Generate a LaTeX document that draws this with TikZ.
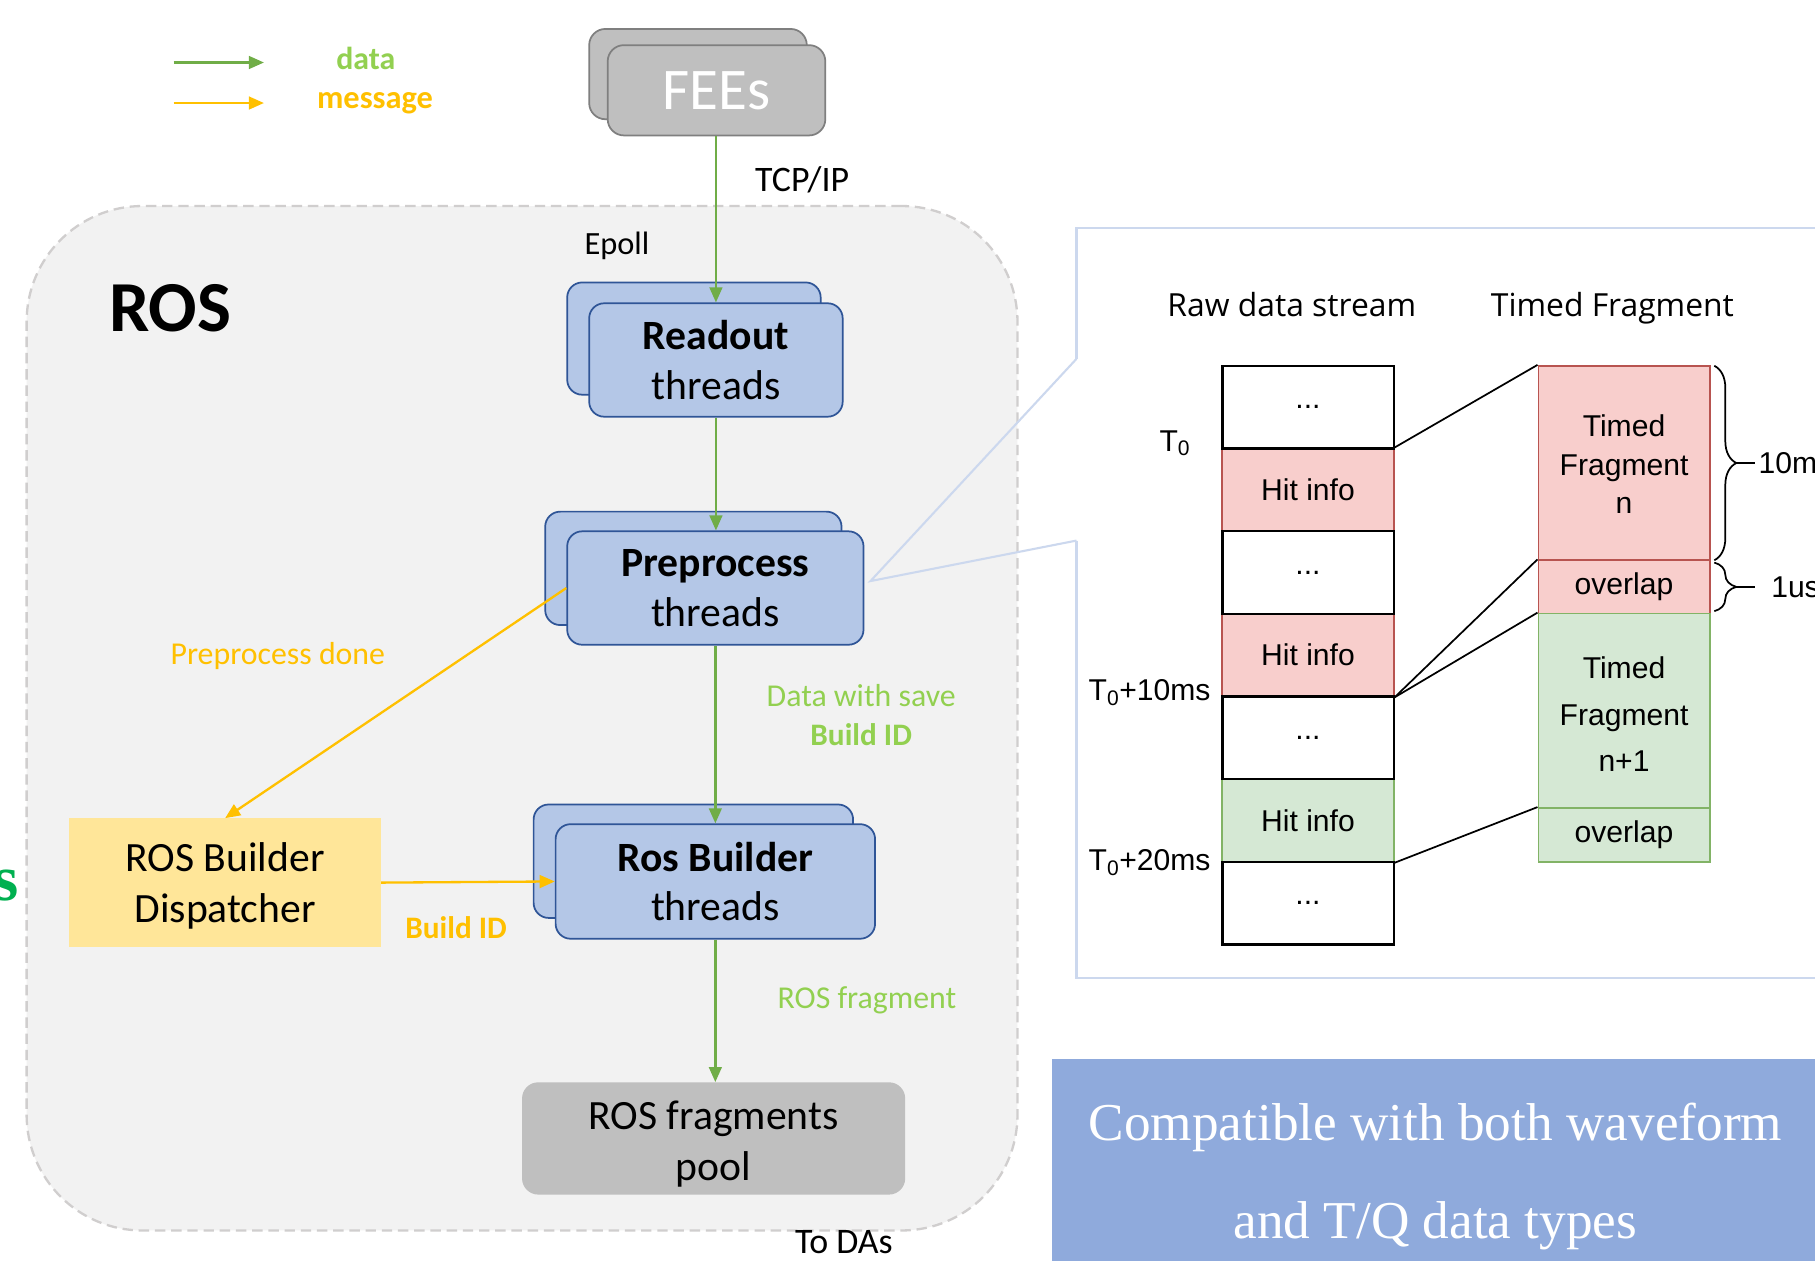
\documentclass[tikz,border=0pt]{standalone}
\usepackage{fontspec}
\setmainfont{Carlito}
\newfontfamily\arialf{Liberation Sans}
\newfontfamily\osans{Open Sans}
\newfontfamily\timesf{Liberation Serif}
\usetikzlibrary{arrows.meta,decorations.pathreplacing,calc}
\definecolor{ggreen}{HTML}{70AD47}
\definecolor{lgreen}{HTML}{92D050}
\definecolor{gold}{HTML}{FFC000}
\definecolor{thrfill}{HTML}{B4C7E7}
\definecolor{thrdraw}{HTML}{2F5597}
\definecolor{feefill}{HTML}{BFBFBF}
\definecolor{feedraw}{HTML}{7F7F7F}
\definecolor{dispfill}{HTML}{FFE699}
\definecolor{rosfill}{HTML}{F2F2F2}
\definecolor{rosdraw}{HTML}{D0CECE}
\definecolor{callc}{HTML}{CCD8EE}
\definecolor{pinkf}{HTML}{F8CECC}
\definecolor{pinkd}{HTML}{B85450}
\definecolor{greenf}{HTML}{D5E8D4}
\definecolor{greend}{HTML}{82B366}
\definecolor{bluebox}{HTML}{8FAADC}
\definecolor{sgreen}{HTML}{00B050}
\tikzset{
  thr/.style={draw=thrdraw, fill=thrfill, line width=1.5pt, rounded corners=13pt,
    align=center, inner sep=0pt, font=\fontsize{36}{43}\selectfont},
  fee/.style={draw=feedraw, fill=feefill, line width=1.5pt, rounded corners=14pt,
    inner sep=0pt, text=white, font=\fontsize{51}{51}\selectfont},
  garrow/.style={draw=ggreen, line width=2pt, -{Triangle[length=13pt,width=11pt]}},
  yarrow/.style={draw=gold, line width=2pt, -{Triangle[length=13pt,width=11pt]}},
  lbl/.style={inner sep=0pt, font=\fontsize{27.5}{32}\selectfont},
  wcell/.style={draw=black, fill=white, line width=2pt, minimum width=148pt,
    minimum height=71.43pt, inner sep=0pt, font=\arialf\fontsize{26}{30}\selectfont},
  pcell/.style={wcell, draw=pinkd, fill=pinkf, line width=1.5pt},
  gcell/.style={wcell, draw=greend, fill=greenf, line width=1.5pt},
  tlbl/.style={inner sep=0pt, font=\arialf\fontsize{26}{30}\selectfont},
}
\begin{document}
\begin{tikzpicture}[x=1pt,y=-1pt]
\useasboundingbox (0,0) rectangle (1568,1089);
\fill[white] (0,0) rectangle (1568,1089);
\begin{scope}
\clip (0,0) rectangle (1568,1089);
% ROS container
\node[draw=rosdraw, fill=rosfill, dashed, dash pattern=on 9pt off 5pt, line width=2pt,
  rounded corners=100pt, minimum width=856pt, minimum height=885pt, inner sep=0pt]
  (ros) at (451,620.5) {};
\node[inner sep=0pt, font=\bfseries\fontsize{62}{62}\selectfont] (rosl) at (147,266) {ROS};

% legend
\coordinate (lga) at (150,54); \coordinate (lgb) at (228,54);
\coordinate (lgc) at (150,89); \coordinate (lgd) at (228,89);
\draw[garrow] (lga) -- (lgb);
\draw[yarrow] (lgc) -- (lgd);
\node[lbl, text=lgreen, font=\bfseries\fontsize{27.5}{30}\selectfont, anchor=base] (ldata) at (316,60) {data};
\node[lbl, text=gold, font=\bfseries\fontsize{28}{30}\selectfont, anchor=base] (lmsg) at (324,94) {message};

% FEEs
\node[fee, minimum width=188pt, minimum height=78pt] (feeb) at (603,64) {};
\node[fee, minimum width=188pt, minimum height=78pt] (fees) at (619,78) {FEEs};

% callout
\draw[callc, line width=1.8pt] (930,310) -- (930,197) -- (1600,197);
\draw[callc, line width=1.8pt] (930,467) -- (930,845) -- (1600,845);
\draw[callc, line width=1.8pt] (930,310) -- (752,502) -- (930,467);

% threads
\node[thr, minimum width=219pt, minimum height=97pt] (readb) at (599.5,292.5) {};
\node[thr, minimum width=219pt, minimum height=98pt] (readout) at (618.5,311) {\textbf{Readout}\\threads};
\node[thr, minimum width=256pt, minimum height=98pt] (prepb) at (599,491) {};
\node[thr, minimum width=256pt, minimum height=98pt] (prep) at (618,508) {\textbf{Preprocess}\\threads};
\node[thr, minimum width=276pt, minimum height=98pt] (rosbb) at (599,744) {};
\node[thr, minimum width=276pt, minimum height=99pt] (rosb) at (618,761.5) {\textbf{Ros Builder}\\threads};

\node[fill=dispfill, minimum width=269pt, minimum height=111pt, inner sep=0pt] (disp) at (194.5,762.5) {};
\node[inner sep=0pt, align=center, font=\fontsize{36}{44}\selectfont] (dispt) at ($(disp.center)+(0,3)$) {ROS Builder\\Dispatcher};
\node[fill=feefill, rounded corners=14pt, minimum width=331pt, minimum height=97pt, inner sep=0pt] (pool) at (616.5,983.5) {};
\node[inner sep=0pt, align=center, font=\fontsize{36}{44}\selectfont] (poolt) at ($(pool.center)+(0,5)$) {ROS fragments\\pool};

% arrows
\draw[garrow] (fees.south -| readout.north) -- (readout.north);
\draw[garrow] (readout.south) -- (readout.south |- prep.north);
\draw[garrow] (prep.south) -- (prep.south |- rosb.north);
\draw[garrow] (rosb.south) -- (rosb.south |- pool.north);
\draw[yarrow] (prep.west) -- (disp.north);
\draw[yarrow] (disp.east) -- (rosb.west);

% labels
\node[lbl, font=\fontsize{31}{34}\selectfont] (tcp) at (693,155) {TCP/IP};
\node[lbl, font=\fontsize{28}{30}\selectfont] (epoll) at (533,212) {Epoll};
\node[lbl, text=gold] (ppd) at (240,567) {Preprocess done};
\node[lbl, text=lgreen] (dws) at (744,601) {Data with save};
\node[lbl, text=lgreen, font=\bfseries\fontsize{27}{30}\selectfont] (bid1) at (744,635) {Build ID};
\node[lbl, text=gold, font=\bfseries\fontsize{27}{30}\selectfont] (bid2) at (394,801) {Build ID};
\node[lbl, text=lgreen] (rfr) at (749,864) {ROS fragment};
\node[lbl, font=\fontsize{31}{34}\selectfont] (todas) at (729,1073) {To DAs};
\node[inner sep=0pt, text=sgreen, font=\timesf\bfseries\fontsize{56}{58}\selectfont, anchor=base east] (sg) at (16,778) {s};

% panel titles
\node[inner sep=0pt, font=\osans\fontsize{27.5}{30}\selectfont, anchor=base] (rawt) at (1116,273) {Raw data stream};
\node[inner sep=0pt, font=\osans\fontsize{27.5}{30}\selectfont, anchor=base] (timt) at (1393,273) {Timed Fragment};

% raw column
\node[pcell] (r2) at (1130,423.1) {Hit info};
\node[pcell] (r4) at (1130,566.0) {Hit info};
\node[gcell] (r6) at (1130,708.9) {Hit info};
\node[wcell] (r1) at (1130,351.7) {...};
\node[wcell] (r3) at (1130,494.6) {...};
\node[wcell] (r5) at (1130,637.4) {...};
\node[wcell] (r7) at (1130,780.3) {...};

% timed column
\node[pcell, minimum height=168pt] (tfn) at (1403,400) {};
\node[inner sep=0pt, align=center, font=\arialf\fontsize{26}{33.5}\selectfont] (tfnt) at ($(tfn.center)+(0,1)$) {Timed\\Fragment\\n};
\node[pcell, minimum height=46pt] (ov1) at (1403,507) {overlap};
\node[gcell, minimum height=168pt] (tfn1) at (1403,614) {};
\node[inner sep=0pt, align=center, font=\arialf\fontsize{26}{40}\selectfont] (tfn1t) at ($(tfn1.center)+(0,3)$) {Timed\\Fragment\\n+1};
\node[gcell, minimum height=47pt] (ov2) at (1403,721.5) {overlap};

\draw[line width=1.5pt] (r2.north east) -- (tfn.north west);
\draw[line width=1.5pt] (r4.south east) -- (ov1.north west);
\draw[line width=1.5pt] (r4.south east) -- (tfn1.north west);
\draw[line width=1.5pt] (r6.south east) -- (ov2.north west);

\node[tlbl] (t0) at (1015,383) {T\textsubscript{0}};
\node[tlbl, anchor=east] (t10) at (1046,598) {T\textsubscript{0}+10ms};
\node[tlbl, anchor=east] (t20) at (1046,745) {T\textsubscript{0}+20ms};

% braces
\draw[line width=1.5pt, decorate, decoration={brace, amplitude=19pt}] (1481,316) -- (1481,484);
\draw[line width=1.5pt, decorate, decoration={brace, amplitude=19pt}] (1481,486) -- (1481,528);
\coordinate (bt1) at (1500,400); \coordinate (bt1e) at (1516,400);
\coordinate (bt2) at (1500,507); \coordinate (bt2e) at (1516,507);
\draw[line width=1.5pt] (bt1) -- (bt1e);
\draw[line width=1.5pt] (bt2) -- (bt2e);
\node[tlbl, anchor=west] (ms10) at (1519,400) {10ms};
\node[tlbl, anchor=west] (us1) at (1530,507) {1us};

% blue box
\node[fill=bluebox, minimum width=700pt, minimum height=200pt, inner sep=0pt, anchor=north west] (bbox) at (909,915) {};
\node[inner sep=0pt, text=white, font=\timesf\fontsize{46}{50}\selectfont] (bt1t) at (1240,974) {Compatible with both waveform};
\node[inner sep=0pt, text=white, font=\timesf\fontsize{46}{50}\selectfont] (bt2t) at (1240,1059) {and T/Q data types};
\end{scope}
\end{tikzpicture}
\end{document}
